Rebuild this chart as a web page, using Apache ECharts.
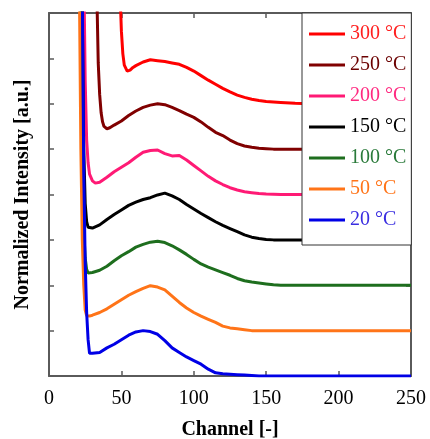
<!DOCTYPE html>
<html>
<head>
<meta charset="utf-8">
<script src="https://cdn.jsdelivr.net/npm/echarts@6/dist/echarts.min.js"></script>
<style>
  html, body { margin: 0; padding: 0; background: #fff; }
  #chart { width: 430px; height: 439px; }
</style>
</head>
<body>
<div id="chart"></div>
<script>
// channel ticks
var xTicks = [0, 50, 100, 150, 200, 250];

// spectra, each one shifted up by one unit
var ch300 = [48, 49, 50, 51, 52, 54, 56, 58, 60, 65, 70, 75, 80, 85, 90, 95, 100, 105, 110, 115, 120, 125, 130, 135, 140, 145, 150, 160, 170, 180, 200, 220, 250];
var v300  = [12, 8.5, 7.6, 7.1, 6.85, 6.72, 6.74, 6.8, 6.84, 6.92, 6.97, 6.95, 6.93, 6.9, 6.87, 6.8, 6.72, 6.62, 6.52, 6.43, 6.34, 6.26, 6.19, 6.14, 6.1, 6.07, 6.05, 6.03, 6.01, 6.0, 6.0, 6.0, 6.0];

var ch250 = [32, 33, 34, 35, 36, 37, 38, 40, 42, 45, 50, 55, 60, 65, 70, 75, 80, 85, 90, 95, 100, 105, 110, 115, 120, 125, 130, 135, 140, 145, 150, 155, 200, 250];
var v250  = [12, 8.5, 6.9, 6.2, 5.8, 5.6, 5.5, 5.45, 5.47, 5.53, 5.62, 5.74, 5.84, 5.92, 5.97, 6.0, 5.98, 5.92, 5.85, 5.77, 5.7, 5.6, 5.48, 5.37, 5.3, 5.2, 5.12, 5.07, 5.04, 5.02, 5.01, 5.0, 5.0, 5.0];

var ch200 = [23, 24, 25, 26, 27, 28, 30, 32, 35, 40, 45, 50, 55, 60, 65, 70, 75, 80, 85, 90, 95, 100, 105, 110, 115, 120, 125, 130, 135, 140, 145, 150, 160, 200, 250];
var v200  = [12, 9, 6.5, 5.2, 4.7, 4.45, 4.3, 4.25, 4.27, 4.38, 4.5, 4.6, 4.7, 4.82, 4.93, 4.97, 4.98, 4.9, 4.85, 4.86, 4.76, 4.64, 4.52, 4.4, 4.3, 4.22, 4.15, 4.1, 4.06, 4.04, 4.02, 4.01, 4.0, 4.0, 4.0];

var ch150 = [22, 23, 24, 25, 26, 27, 28, 30, 35, 40, 45, 50, 55, 60, 65, 70, 75, 80, 85, 90, 95, 100, 105, 110, 115, 120, 125, 130, 135, 140, 145, 150, 155, 200, 250];
var v150  = [12, 8, 5, 3.8, 3.4, 3.28, 3.25, 3.26, 3.33, 3.45, 3.56, 3.66, 3.76, 3.83, 3.89, 3.93, 3.99, 4.03, 3.97, 3.89, 3.78, 3.68, 3.58, 3.49, 3.4, 3.32, 3.25, 3.18, 3.11, 3.06, 3.03, 3.01, 3.0, 3.0, 3.0];

var ch100 = [21, 22, 23, 24, 25, 26, 27, 28, 30, 35, 40, 45, 50, 55, 60, 65, 70, 75, 80, 85, 90, 95, 100, 105, 110, 115, 120, 125, 130, 135, 140, 145, 150, 155, 160, 200, 250];
var v100  = [12, 8, 4.5, 3.2, 2.6, 2.35, 2.27, 2.26, 2.28, 2.33, 2.42, 2.54, 2.65, 2.74, 2.84, 2.9, 2.95, 2.97, 2.94, 2.87, 2.78, 2.68, 2.57, 2.47, 2.4, 2.34, 2.28, 2.22, 2.15, 2.1, 2.07, 2.05, 2.03, 2.01, 2.0, 2.0, 2.0];

var ch50 = [20, 21, 22, 23, 24, 25, 26, 28, 30, 35, 40, 45, 50, 55, 60, 65, 70, 75, 80, 85, 90, 95, 100, 105, 110, 115, 120, 125, 130, 135, 140, 150, 200, 250];
var v50  = [12, 8.5, 5, 3, 2, 1.45, 1.33, 1.32, 1.34, 1.4, 1.48, 1.58, 1.68, 1.78, 1.86, 1.93, 1.99, 1.96, 1.9, 1.76, 1.62, 1.5, 1.4, 1.32, 1.25, 1.18, 1.1, 1.06, 1.04, 1.02, 1.0, 1.0, 1.0, 1.0];

var ch20 = [22, 23, 24, 25, 26, 27, 28, 30, 35, 40, 45, 50, 55, 60, 65, 70, 75, 80, 85, 90, 95, 100, 105, 110, 115, 120, 125, 130, 135, 140, 145, 200, 250];
var v20  = [12, 8.5, 4.5, 2.5, 1.4, 0.8, 0.5, 0.5, 0.52, 0.62, 0.7, 0.8, 0.9, 0.97, 1.0, 0.98, 0.92, 0.78, 0.62, 0.52, 0.42, 0.34, 0.26, 0.15, 0.07, 0.05, 0.04, 0.03, 0.02, 0.01, 0.0, 0.0, 0.0];

var names  = ['300 °C', '250 °C', '200 °C', '150 °C', '100 °C', '50 °C', '20 °C'];
var colors = ['#ff0000', '#800000', '#ff1a75', '#000000', '#1e6e1e', '#ff7418', '#0000e6'];
var textColors = ['#ff2020', '#6b0000', '#ff2a80', '#000000', '#2a7a3a', '#ff7418', '#3a2ee0'];
var chans  = [ch300, ch250, ch200, ch150, ch100, ch50, ch20];
var vals   = [v300, v250, v200, v150, v100, v50, v20];

var serif = 'Liberation Serif';
var axisColor = '#5a5a5a';

function pairs(xs, ys) {
    var out = [];
    for (var i = 0; i < xs.length; i++) out.push([xs[i], ys[i]]);
    return out;
}

var series = names.map(function (n, i) {
    return {
        name: n,
        type: 'line',
        data: pairs(chans[i], vals[i]),
        showSymbol: false,
        clip: true,
        color: colors[i],
        lineStyle: { width: 3, color: colors[i] }
    };
});

// mirrored frame axes share this look
function frameAxis(extra) {
    var base = {
        type: 'value',
        axisLine: { show: true, onZero: false, lineStyle: { color: axisColor, width: 2 } },
        axisTick: { show: true, inside: true, length: 5, lineStyle: { color: axisColor, width: 1.5 } },
        axisLabel: { show: false },
        splitLine: { show: false }
    };
    return Object.assign(base, extra);
}

var chart = echarts.init(document.getElementById('chart'));
chart.setOption({
    animation: false,
    grid: { left: 49, right: 19, top: 13, bottom: 63, containLabel: false, outerBoundsMode: 'none' },
    legend: {
        orient: 'vertical',
        left: 302,
        top: 13,
        padding: [7, 5, 11, 7],
        itemGap: 3,
        itemWidth: 36,
        itemHeight: 3,
        icon: 'rect',
        backgroundColor: '#fff',
        borderColor: '#333',
        borderWidth: 1,
        borderRadius: 0,
        textStyle: { fontFamily: serif, fontSize: 20, lineHeight: 18, padding: [10, 0, 0, 0] },
        data: names.map(function (n, i) {
            return { name: n, textStyle: { color: textColors[i] } };
        })
    },
    xAxis: [
        frameAxis({
            min: 0, max: 250, interval: 50, position: 'bottom',
            name: 'Channel [-]', nameLocation: 'middle', nameGap: 44,
            nameTextStyle: { fontFamily: serif, fontSize: 20, fontWeight: 'bold', color: '#000' },
            axisLabel: { show: true, fontFamily: serif, fontSize: 20, color: '#000', margin: 13 }
        }),
        frameAxis({ min: 0, max: 250, interval: 50, position: 'top' })
    ],
    yAxis: [
        frameAxis({
            min: 0, max: 8, interval: 1, position: 'left',
            name: 'Normalized Intensity [a.u.]', nameLocation: 'middle', nameGap: 16,
            nameTextStyle: { fontFamily: serif, fontSize: 20, fontWeight: 'bold', color: '#000' }
        }),
        frameAxis({ min: 0, max: 8, interval: 1, position: 'right' })
    ],
    series: series
});
</script>
</body>
</html>
